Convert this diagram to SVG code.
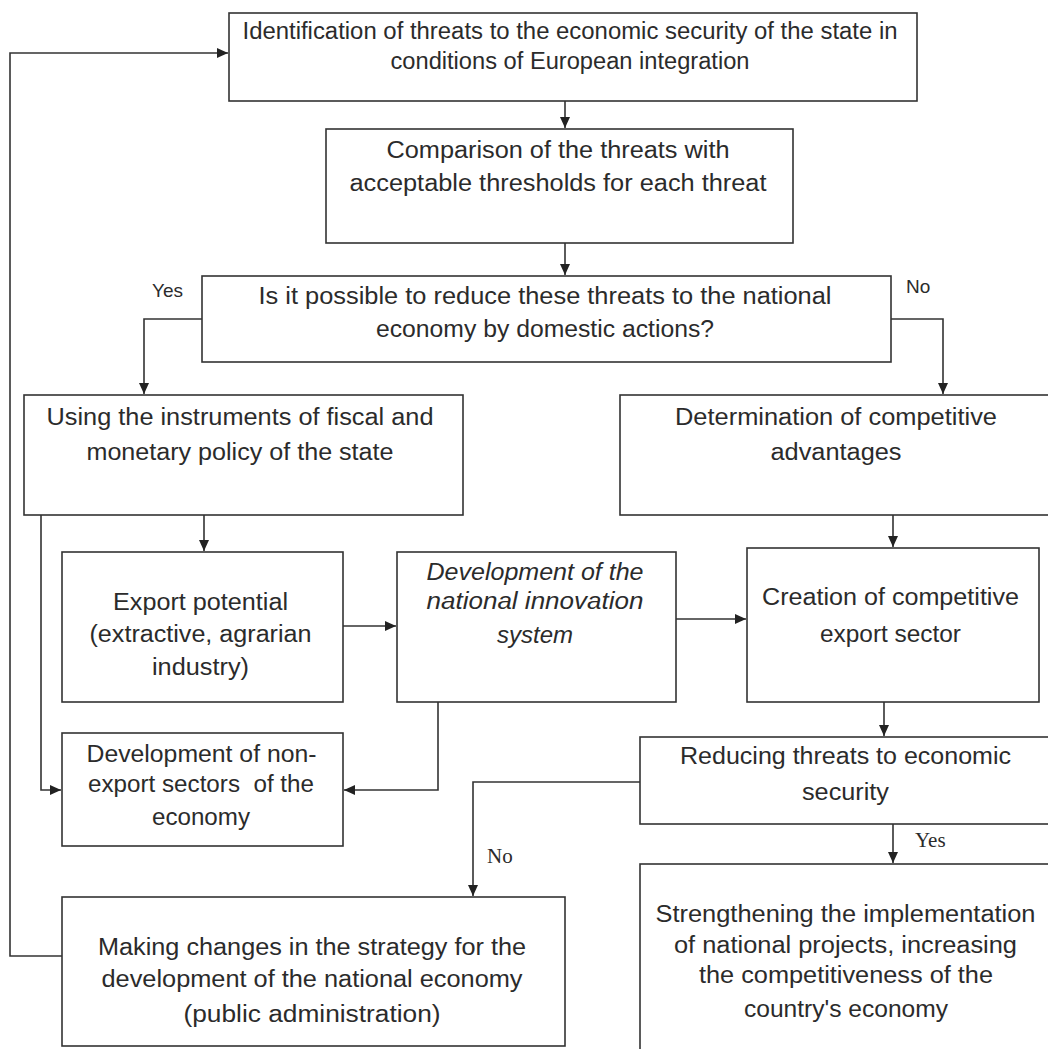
<svg xmlns="http://www.w3.org/2000/svg" width="1048" height="1049" viewBox="0 0 1048 1049">
<style>
.box{fill:#fff;stroke:#333;stroke-width:1.6}
.t{font-family:"Liberation Sans",Arial,sans-serif;font-size:23px;fill:#2b2b2b;text-anchor:middle}
.it{font-style:italic}
.lbl{font-family:"Liberation Sans",Arial,sans-serif;font-size:19px;fill:#2b2b2b}
.lbls{font-family:"Liberation Serif","Times New Roman",serif;font-size:21px;fill:#2b2b2b}
.c{fill:none;stroke:#333;stroke-width:1.6}
</style>
<defs>
<marker id="ah" markerUnits="userSpaceOnUse" markerWidth="12" markerHeight="10" refX="11" refY="5" orient="auto">
<path d="M0,0 L11,5 L0,10 z" fill="#222"/>
</marker>
</defs>
<rect width="1048" height="1049" fill="#fff"/>
<g id="connectors">
<polyline class="c" points="62,956 10,956 10,53 228,53" marker-end="url(#ah)"/>
<line class="c" x1="565" y1="101" x2="565" y2="128" marker-end="url(#ah)"/>
<line class="c" x1="565" y1="243" x2="565" y2="275" marker-end="url(#ah)"/>
<polyline class="c" points="202,319 144,319 144,394" marker-end="url(#ah)"/>
<polyline class="c" points="891,319 943,319 943,394" marker-end="url(#ah)"/>
<line class="c" x1="204" y1="515" x2="204" y2="551" marker-end="url(#ah)"/>
<polyline class="c" points="41,515 41,790 61,790" marker-end="url(#ah)"/>
<line class="c" x1="343" y1="626" x2="396" y2="626" marker-end="url(#ah)"/>
<polyline class="c" points="438,702 438,790 344,790" marker-end="url(#ah)"/>
<line class="c" x1="893" y1="515" x2="893" y2="547" marker-end="url(#ah)"/>
<line class="c" x1="676" y1="619" x2="746" y2="619" marker-end="url(#ah)"/>
<line class="c" x1="884" y1="702" x2="884" y2="736" marker-end="url(#ah)"/>
<polyline class="c" points="640,782 473,782 473,896" marker-end="url(#ah)"/>
<line class="c" x1="893" y1="824" x2="893" y2="863" marker-end="url(#ah)"/>
<text class="lbl" x="152" y="297">Yes</text>
<text class="lbl" x="906" y="293">No</text>
<text class="lbls" x="487" y="863">No</text>
<text class="lbls" x="915" y="847">Yes</text>
</g>
<g id="n1">
<rect class="box" x="229" y="13" width="688" height="88"/>
<text class="t" x="570" y="39" textLength="655" lengthAdjust="spacingAndGlyphs">Identification of threats to the economic security of the state in</text>
<text class="t" x="570" y="69" textLength="359" lengthAdjust="spacingAndGlyphs">conditions of European integration</text>
</g>
<g id="n2">
<rect class="box" x="326" y="129" width="467" height="114"/>
<text class="t" x="558" y="158" textLength="343" lengthAdjust="spacingAndGlyphs">Comparison of the threats with</text>
<text class="t" x="558" y="191" textLength="417" lengthAdjust="spacingAndGlyphs">acceptable thresholds for each threat</text>
</g>
<g id="n3">
<rect class="box" x="202" y="276" width="689" height="86"/>
<text class="t" x="545" y="304" textLength="573" lengthAdjust="spacingAndGlyphs">Is it possible to reduce these threats to the national</text>
<text class="t" x="545" y="337" textLength="338" lengthAdjust="spacingAndGlyphs">economy by domestic actions?</text>
</g>
<g id="n4">
<rect class="box" x="24" y="395" width="439" height="120"/>
<text class="t" x="240" y="425" textLength="387" lengthAdjust="spacingAndGlyphs">Using the instruments of fiscal and</text>
<text class="t" x="240" y="460" textLength="307" lengthAdjust="spacingAndGlyphs">monetary policy of the state</text>
</g>
<g id="n5">
<rect class="box" x="620" y="395" width="440" height="120"/>
<text class="t" x="836" y="425" textLength="322" lengthAdjust="spacingAndGlyphs">Determination of competitive</text>
<text class="t" x="836" y="460" textLength="131" lengthAdjust="spacingAndGlyphs">advantages</text>
</g>
<g id="n6">
<rect class="box" x="62" y="552" width="281" height="150"/>
<text class="t" x="200.5" y="610" textLength="175" lengthAdjust="spacingAndGlyphs">Export potential</text>
<text class="t" x="200.5" y="642" textLength="222" lengthAdjust="spacingAndGlyphs">(extractive, agrarian</text>
<text class="t" x="200.5" y="675" textLength="97" lengthAdjust="spacingAndGlyphs">industry)</text>
</g>
<g id="n7">
<rect class="box" x="397" y="552" width="279" height="150"/>
<text class="t it" x="535" y="580" textLength="217" lengthAdjust="spacingAndGlyphs">Development of the</text>
<text class="t it" x="535" y="609" textLength="217" lengthAdjust="spacingAndGlyphs">national innovation</text>
<text class="t it" x="535" y="643" textLength="76" lengthAdjust="spacingAndGlyphs">system</text>
</g>
<g id="n8">
<rect class="box" x="747" y="548" width="292" height="154"/>
<text class="t" x="890.5" y="605" textLength="257" lengthAdjust="spacingAndGlyphs">Creation of competitive</text>
<text class="t" x="890.5" y="642" textLength="141" lengthAdjust="spacingAndGlyphs">export sector</text>
</g>
<g id="n9">
<rect class="box" x="62" y="733" width="281" height="113"/>
<text class="t" x="201.5" y="762" textLength="230" lengthAdjust="spacingAndGlyphs">Development of non-</text>
<text class="t" x="201" y="792" textLength="226" lengthAdjust="spacingAndGlyphs" xml:space="preserve">export sectors  of the</text>
<text class="t" x="201" y="825" textLength="98" lengthAdjust="spacingAndGlyphs">economy</text>
</g>
<g id="n10">
<rect class="box" x="640" y="737" width="420" height="87"/>
<text class="t" x="845.5" y="764" textLength="331" lengthAdjust="spacingAndGlyphs">Reducing threats to economic</text>
<text class="t" x="845.5" y="800" textLength="87" lengthAdjust="spacingAndGlyphs">security</text>
</g>
<g id="n11">
<rect class="box" x="62" y="897" width="503" height="149"/>
<text class="t" x="312" y="955" textLength="428" lengthAdjust="spacingAndGlyphs">Making changes in the strategy for the</text>
<text class="t" x="312" y="987" textLength="421" lengthAdjust="spacingAndGlyphs">development of the national economy</text>
<text class="t" x="312" y="1022" textLength="257" lengthAdjust="spacingAndGlyphs">(public administration)</text>
</g>
<g id="n12">
<rect class="box" x="640" y="864" width="420" height="200"/>
<text class="t" x="845.5" y="922" textLength="380" lengthAdjust="spacingAndGlyphs">Strengthening the implementation</text>
<text class="t" x="845.5" y="953" textLength="343" lengthAdjust="spacingAndGlyphs">of national projects, increasing</text>
<text class="t" x="846" y="983" textLength="294" lengthAdjust="spacingAndGlyphs">the competitiveness of the</text>
<text class="t" x="846" y="1017" textLength="204" lengthAdjust="spacingAndGlyphs">country's economy</text>
</g>
</svg>
